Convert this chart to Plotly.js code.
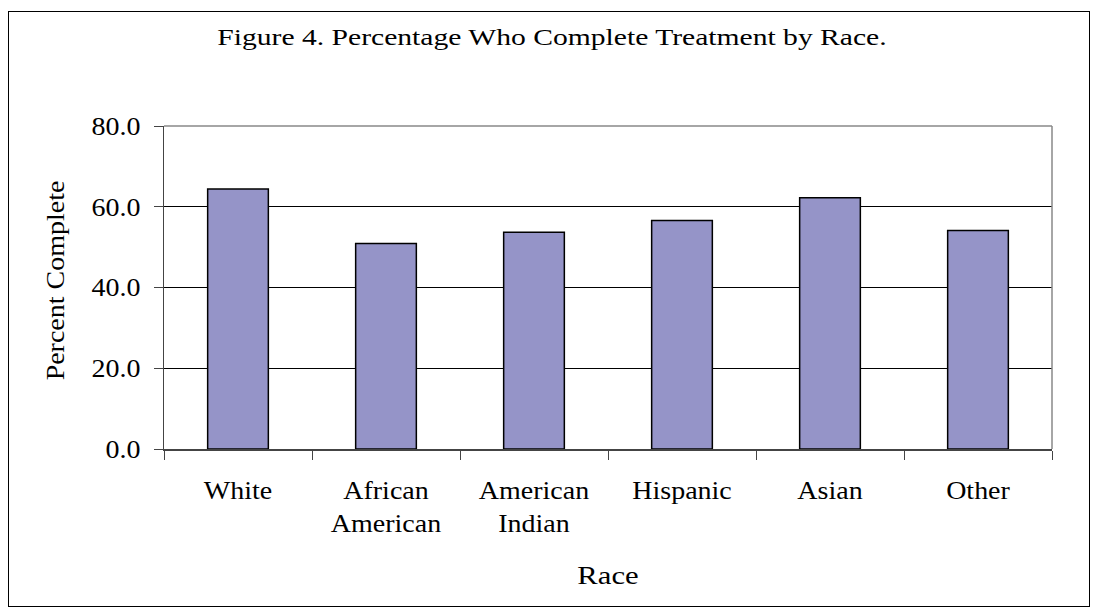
<!DOCTYPE html>
<html><head><meta charset="utf-8">
<script src="https://cdn.plot.ly/plotly-3.0.1.min.js"></script>
<style>
html,body{margin:0;padding:0;background:#fff;}
#chart{width:1096px;height:611px;position:absolute;left:0;top:0;}
#frame{position:absolute;left:8px;top:11px;width:1080px;height:594px;border:1px solid #000;pointer-events:none;}
</style></head>
<body>
<div id="chart"></div>
<div id="frame"></div>
<script>
const categories = ["White", "African<br>American", "American<br>Indian", "Hispanic", "Asian", "Other"];
const percentComplete = [64.4, 50.9, 53.7, 56.6, 62.2, 54.1];
const yTickValues = [0, 20, 40, 60, 80];
const yTickLabels = ["0.0", "20.0", "40.0", "60.0", "80.0"];

const serif = "Liberation Serif, Times New Roman, serif";

const trace = {
  type: "bar",
  x: categories,
  y: percentComplete,
  width: 0.41,
  marker: {color: "#9594c8", line: {color: "#000", width: 1.5}},
  hoverinfo: "none"
};

const layout = {
  width: 1096, height: 611,
  margin: {l: 164, r: 44, t: 126, b: 162},
  paper_bgcolor: "#fff", plot_bgcolor: "#fff",
  showlegend: false,
  title: {text: "Figure 4. Percentage Who Complete Treatment by Race.",
          font: {family: serif, size: 24, color: "#000"},
          x: 552/1096, xanchor: "center", y: 1 - 37/611, yanchor: "middle", yref: "container"},
  xaxis: {
    type: "category",
    tickson: "boundaries",
    ticks: "outside", ticklen: 9, tickcolor: "#444", tickwidth: 1,
    showline: true, linecolor: "#444", linewidth: 1.5,
    showgrid: false, zeroline: false,
    tickfont: {family: serif, size: 25, color: "#000"},
    ticklabelstandoff: 19,
    title: {text: "Race", font: {family: serif, size: 26, color: "#000"}, standoff: 30},
    range: [-0.5, 5.5],
    fixedrange: true
  },
  yaxis: {
    range: [0, 80],
    tickvals: yTickValues, ticktext: yTickLabels,
    ticks: "outside", ticklen: 9, tickcolor: "#444", tickwidth: 1,
    showline: true, linecolor: "#444", linewidth: 1.5,
    showgrid: true, gridcolor: "#000", gridwidth: 1.2,
    zeroline: false,
    tickfont: {family: serif, size: 25, color: "#000"},
    ticklabelstandoff: 8,
    title: {text: "Percent Complete", font: {family: serif, size: 25, color: "#000"}, standoff: 25},
    fixedrange: true
  },
  shapes: [
    {type: "line", xref: "paper", yref: "paper", x0: 0, x1: 1, y0: 1, y1: 1, line: {color: "#888", width: 1.5}},
    {type: "line", xref: "paper", yref: "paper", x0: 1, x1: 1, y0: 0, y1: 1, line: {color: "#888", width: 1.5}}
  ]
};

// The reference uses horizontally widened serif glyphs; widen real text about its anchor.
function stretch(sel, s, dx) {
  document.querySelectorAll(sel).forEach(function (t) {
    const x = parseFloat(t.getAttribute("x")) || 0;
    const y = parseFloat(t.getAttribute("y")) || 0;
    const tr = t.getAttribute("transform") || "";
    t.setAttribute("transform", tr + " translate(" + (x + (dx || 0)) + "," + y + ") scale(" + s + ",1) translate(" + (-x) + "," + (-y) + ")");
  });
}

Plotly.newPlot("chart", [trace], layout, {displayModeBar: false, staticPlot: true}).then(function () {
  stretch("#chart .gtitle", 1.234);
  stretch("#chart .xtick text", 1.12);
  stretch("#chart .ytick text", 1.12);
  stretch("#chart .xtitle", 1.18);
  stretch("#chart .ytitle", 1.12, 7);
});
</script>
</body></html>
